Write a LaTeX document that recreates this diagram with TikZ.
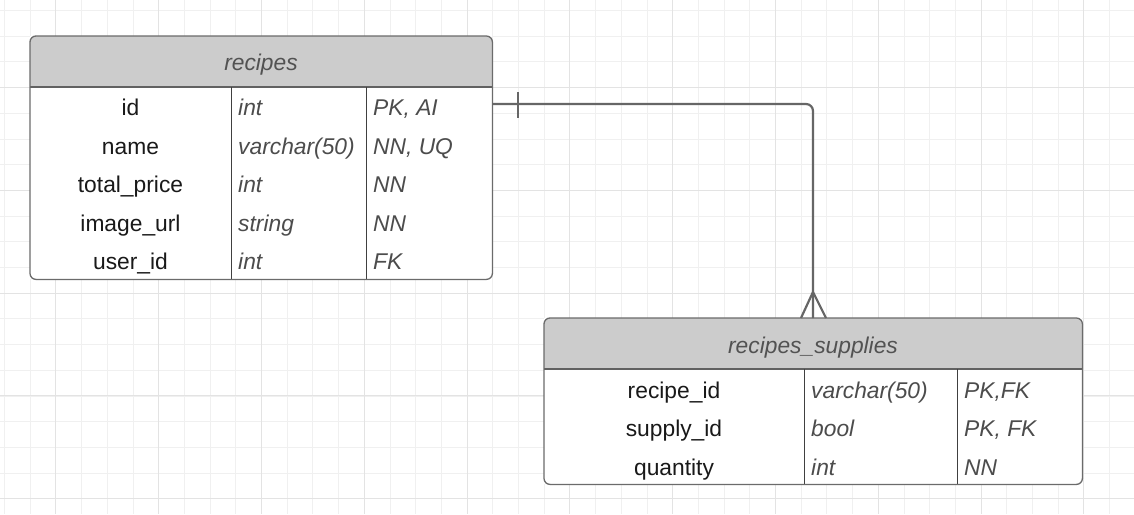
\documentclass[tikz,border=0pt]{standalone}
\usepackage{fontspec}
\setmainfont{Liberation Sans}
\begin{document}
\begin{tikzpicture}[x=1pt,y=-1pt,
  minorgrid/.style={draw=black!6, line width=0.9pt},
  majorgrid/.style={draw=black!11, line width=0.9pt},
  tablebody/.style={fill=white, inner sep=0pt, anchor=north west},
  tableborder/.style={draw=black!58, line width=1.3pt, rounded corners=6pt},
  hdrfill/.style={fill=black!20},
  hdrsep/.style={draw=black!62, line width=2pt},
  coldiv/.style={draw=black!75, line width=1pt},
  hdrtext/.style={font=\fontsize{22.8}{27}\selectfont\itshape, text=black!68, anchor=mid, inner sep=0pt, yshift=-4pt},
  fname/.style={font=\fontsize{22.8}{27}\selectfont, text=black!90, anchor=mid, inner sep=0pt, yshift=-4pt},
  ftype/.style={font=\fontsize{22.8}{27}\selectfont\itshape, text=black!70, anchor=mid west, inner sep=0pt, yshift=-4pt},
  conn/.style={draw=black!60, line width=2.2pt, rounded corners=7pt},
  connmark/.style={draw=black!60, line width=2.2pt}
]
\useasboundingbox (0,0) rectangle (1134,514);
\fill[white] (0,0) rectangle (1134,514);
% grid
\foreach \i in {0,...,44} {
  \pgfmathsetmacro\xx{4.5+25.7*\i}
  \draw[minorgrid] (\xx,0) -- (\xx,514);
}
\foreach \i in {0,...,19} {
  \pgfmathsetmacro\yy{10.5+25.7*\i}
  \draw[minorgrid] (0,\yy) -- (1134,\yy);
}
\foreach \i in {0,...,10} {
  \pgfmathsetmacro\xx{55.9+102.8*\i}
  \draw[majorgrid] (\xx,0) -- (\xx,514);
}
\foreach \i in {0,...,4} {
  \pgfmathsetmacro\yy{87.5+102.8*\i}
  \draw[majorgrid] (0,\yy) -- (1134,\yy);
}

% ---------- table recipes ----------
\node[tablebody, minimum width=462pt, minimum height=243pt] (recipes) at (30,36) {};
\fill[hdrfill] (30,87) [rounded corners=6pt] -- (30,36) -- (492,36) [sharp corners] -- (492,87) -- cycle;
\draw[hdrsep] (30,87) -- (492,87);
\draw[coldiv] (231,87) -- (231,279);
\draw[coldiv] (366,87) -- (366,279);
\draw[tableborder] (recipes.north west) rectangle (recipes.south east);
\node[hdrtext] (recipesT) at (261,64) {recipes};

\node[fname] (r1id) at (130.5,109) {id};
\node[fname] (r1name) at (130.5,147.5) {name};
\node[fname] (r1price) at (130.5,186) {total\_price};
\node[fname] (r1img) at (130.5,224.5) {image\_url};
\node[fname] (r1user) at (130.5,263) {user\_id};

\node[ftype] (r1idT) at (238,109) {int};
\node[ftype] (r1nameT) at (238,147.5) {varchar(50)};
\node[ftype] (r1priceT) at (238,186) {int};
\node[ftype] (r1imgT) at (238,224.5) {string};
\node[ftype] (r1userT) at (238,263) {int};

\node[ftype] (r1idC) at (373,109) {PK, AI};
\node[ftype] (r1nameC) at (373,147.5) {NN, UQ};
\node[ftype] (r1priceC) at (373,186) {NN};
\node[ftype] (r1imgC) at (373,224.5) {NN};
\node[ftype] (r1userC) at (373,263) {FK};

% ---------- table recipes_supplies ----------
\node[tablebody, minimum width=538pt, minimum height=166pt] (supplies) at (544,318) {};
\fill[hdrfill] (544,369) [rounded corners=6pt] -- (544,318) -- (1082,318) [sharp corners] -- (1082,369) -- cycle;
\draw[hdrsep] (544,369) -- (1082,369);
\draw[coldiv] (804,369) -- (804,484);
\draw[coldiv] (957,369) -- (957,484);
\draw[tableborder] (supplies.north west) rectangle (supplies.south east);
\node[hdrtext] (suppliesT) at (813,347) {recipes\_supplies};

\node[fname] (r2rec) at (674,392) {recipe\_id};
\node[fname] (r2sup) at (674,430) {supply\_id};
\node[fname] (r2qty) at (674,469) {quantity};

\node[ftype] (r2recT) at (811,392) {varchar(50)};
\node[ftype] (r2supT) at (811,430) {bool};
\node[ftype] (r2qtyT) at (811,469) {int};

\node[ftype] (r2recC) at (964,392) {PK,FK};
\node[ftype] (r2supC) at (964,430) {PK, FK};
\node[ftype] (r2qtyC) at (964,469) {NN};

% ---------- connector ----------
\coordinate (cstart) at (recipes.east |- 0,104);
\coordinate (cend) at (813,318);
\draw[conn] (cstart) -| (cend);
\draw[connmark] (518,92) -- (518,118);
\draw[connmark] (801,318) -- (813,292) -- (826,318);
\end{tikzpicture}
\end{document}
